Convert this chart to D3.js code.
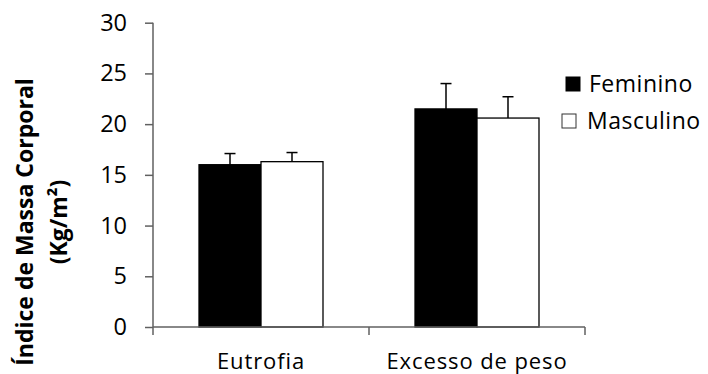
<!DOCTYPE html>
<html><head><meta charset="utf-8">
<script src="https://cdn.jsdelivr.net/npm/d3@7"></script>
<style>
html,body{margin:0;padding:0;background:#fff;}
svg{display:block;font-family:"Open Sans",sans-serif;}
</style></head>
<body><svg id="c" width="708" height="374"></svg>
<script>
const categories = ["Eutrofia", "Excesso de peso"];
const seriesNames = ["Feminino", "Masculino"];
const feminino = [16.0, 21.5];
const masculino = [16.3, 20.6];
const femininoErr = [1.1, 2.5];
const masculinoErr = [0.9, 2.1];
const yTicks = [0, 5, 10, 15, 20, 25, 30];
const yLabelLines = ["Índice de Massa Corporal", "(Kg/m²)"];

(function () {
const svg = d3.select("#c");
const mLeft = 153, mRight = 585, mTop = 22.7, mBottom = 327;
const axisColor = "#606060";

const x = d3.scaleBand().domain(categories).range([mLeft, mRight]).padding(0);
const xs = d3.scaleBand().domain(seriesNames).range([0, x.bandwidth()]).paddingInner(0).paddingOuter(0.742);
const y = d3.scaleLinear().domain([0, 30]).range([mBottom, mTop]);

const fills = {"Feminino": "#000", "Masculino": "#fff"};
const data = [];
categories.forEach((c, i) => {
  data.push({cat: c, s: "Feminino", v: feminino[i], e: femininoErr[i]});
  data.push({cat: c, s: "Masculino", v: masculino[i], e: masculinoErr[i]});
});

// y axis
const ya = svg.append("g").attr("transform", `translate(${mLeft},0)`)
  .call(d3.axisLeft(y).tickValues(yTicks).tickSize(8).tickPadding(18).tickFormat(d3.format("d")));
ya.selectAll("path,line").attr("stroke", axisColor).attr("stroke-width", 1.5);
ya.select(".domain").attr("d", `M0,${mTop}H0V${mBottom}`);
ya.selectAll("text").attr("font-size", 23.5).attr("font-family", '"Open Sans",sans-serif').attr("fill", "#000");

// bars
const g = svg.append("g");
g.selectAll("rect.bar").data(data).join("rect")
  .attr("x", d => x(d.cat) + xs(d.s))
  .attr("y", d => y(d.v))
  .attr("width", xs.bandwidth())
  .attr("height", d => y(0) - y(d.v))
  .attr("fill", d => fills[d.s])
  .attr("stroke", "#000").attr("stroke-width", 1.3);

// error bars (upper only)
const capW = 11;
data.forEach(d => {
  const cx = x(d.cat) + xs(d.s) + xs.bandwidth() / 2;
  g.append("line").attr("x1", cx).attr("x2", cx).attr("y1", y(d.v)).attr("y2", y(d.v + d.e))
    .attr("stroke", "#000").attr("stroke-width", 1.5);
  g.append("line").attr("x1", cx - capW / 2).attr("x2", cx + capW / 2).attr("y1", y(d.v + d.e)).attr("y2", y(d.v + d.e))
    .attr("stroke", "#000").attr("stroke-width", 1.5);
});

// x axis
const xa = svg.append("g");
xa.append("line").attr("x1", mLeft).attr("x2", mRight).attr("y1", mBottom).attr("y2", mBottom)
  .attr("stroke", axisColor).attr("stroke-width", 1.5);
const bounds = [x.range()[0]].concat(categories.map(c => x(c) + x.bandwidth()));
xa.selectAll("line.tk").data(bounds).join("line").attr("class", "tk")
  .attr("x1", d => d).attr("x2", d => d).attr("y1", mBottom).attr("y2", mBottom + 8)
  .attr("stroke", axisColor).attr("stroke-width", 1.5);
xa.selectAll("text").data(categories).join("text")
  .attr("x", d => x(d) + x.bandwidth() / 2).attr("y", 368.5)
  .attr("text-anchor", "middle").attr("font-size", 22).attr("letter-spacing", 0.9)
  .text(d => d);

// y label
const yl = svg.append("text").attr("transform", "translate(0,222) rotate(-90)")
  .attr("text-anchor", "middle").attr("font-weight", "bold").attr("font-size", 23);
yl.append("tspan").attr("x", 0).attr("y", 33).text(yLabelLines[0]);
yl.append("tspan").attr("x", 0).attr("y", 67).text(yLabelLines[1]);

// legend
const lg = svg.append("g");
seriesNames.forEach((s, i) => {
  const yy = 77 + i * 37;
  lg.append("rect").attr("x", 566 - i * 4).attr("y", yy).attr("width", 14).attr("height", 14)
    .attr("fill", fills[s]).attr("stroke", i ? "#333" : "#000").attr("stroke-width", 1);
  lg.append("text").attr("x", 589 - i * 2).attr("y", yy + 15).attr("font-size", 23).attr("letter-spacing", 0.5)
    .text(s);
});
})();
</script></body></html>
